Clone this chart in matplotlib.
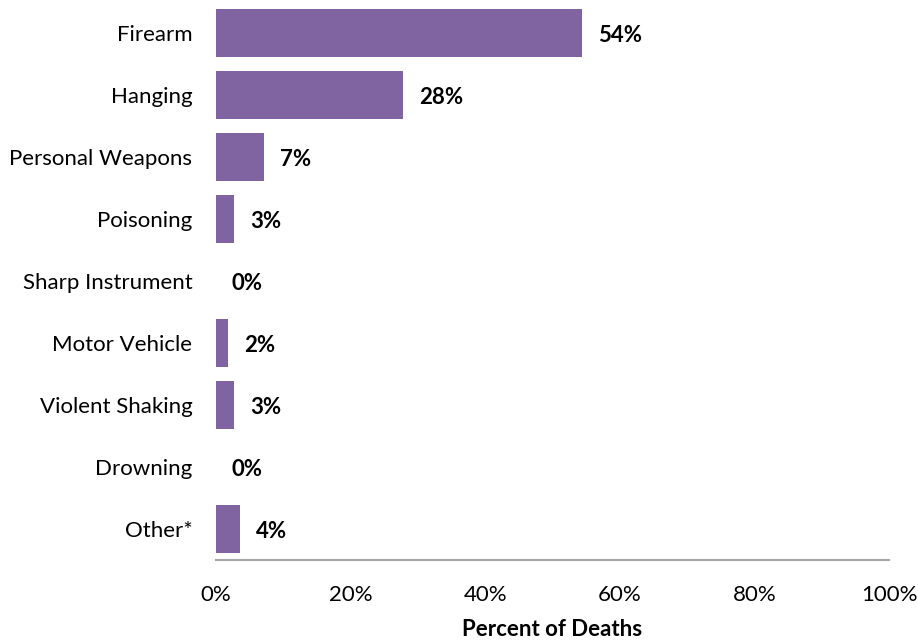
import matplotlib
matplotlib.use("Agg")
import matplotlib.pyplot as plt
from matplotlib.ticker import FuncFormatter

plt.rcParams['font.family'] = ['Lato', 'DejaVu Sans']

categories = ["Firearm", "Hanging", "Personal Weapons", "Poisoning",
              "Sharp Instrument", "Motor Vehicle", "Violent Shaking",
              "Drowning", "Other*"]
percent_of_deaths = [54.4, 27.8, 7.1, 2.7, 0.0, 1.8, 2.7, 0.0, 3.6]
x_ticks = [0, 20, 40, 60, 80, 100]

bar_color = "#8064A2"
font_size = 16

fig = plt.figure(figsize=(9.18, 6.4), dpi=100)
ax = fig.add_axes([216 / 918, 1 - 560 / 640, (889 - 216) / 918, 558 / 640])

y_pos = list(range(len(categories)))
ax.barh(y_pos, percent_of_deaths, height=0.79, color=bar_color, linewidth=0)

for y, v in zip(y_pos, percent_of_deaths):
    ax.annotate(f"{v:.0f}%", xy=(v, y), xytext=(16, 0),
                textcoords="offset pixels", va="center_baseline", ha="left",
                fontsize=font_size, fontweight="bold", color="black")

ax.set_xlim(0, 100)
ax.set_ylim(len(categories) - 0.5, -0.5)
ax.set_yticks(y_pos)
ax.set_yticklabels(categories, fontsize=font_size, va="center_baseline")
ax.set_xticks(x_ticks)
ax.xaxis.set_major_formatter(FuncFormatter(lambda v, _: f"{v:.0f}%"))
ax.tick_params(axis="x", labelsize=font_size, length=0, pad=18)
ax.tick_params(axis="y", length=0, pad=17)

for side in ("top", "right", "left"):
    ax.spines[side].set_visible(False)
ax.spines["bottom"].set_color("#A6A6A6")
ax.spines["bottom"].set_linewidth(1.5)

ax.set_xlabel("Percent of Deaths", fontsize=font_size, fontweight="bold", labelpad=10)

fig.savefig("out.png", dpi=100)
